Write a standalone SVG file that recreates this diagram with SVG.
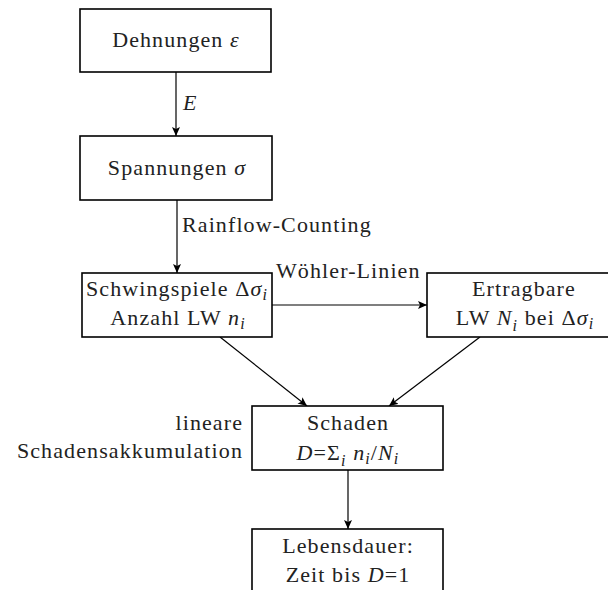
<svg xmlns="http://www.w3.org/2000/svg" width="608" height="590" viewBox="0 0 608 590">
<style>
.box{fill:#fff;stroke:#000;stroke-width:1.6}
.c{fill:none;stroke:#000;stroke-width:1.2}
text{font-family:"Liberation Serif","DejaVu Serif",serif;font-size:22px;letter-spacing:1.1px;fill:#222}
.m{text-anchor:middle}
.e{text-anchor:end}
.i{font-style:italic}
.s{font-style:italic;font-size:16px}
</style>
<defs>
<marker id="a" markerUnits="userSpaceOnUse" markerWidth="12" markerHeight="10" refX="9" refY="4" orient="auto">
<path d="M0,0 L9,4 L0,8 L2,4 z" fill="#000"/>
</marker>
</defs>
<g id="connectors">
<line class="c" x1="176" y1="72" x2="176" y2="136" marker-end="url(#a)"/>
<line class="c" x1="177" y1="200" x2="177" y2="273" marker-end="url(#a)"/>
<line class="c" x1="272" y1="305" x2="427" y2="305" marker-end="url(#a)"/>
<line class="c" x1="220" y1="337" x2="307" y2="406" marker-end="url(#a)"/>
<line class="c" x1="480" y1="337" x2="389" y2="406" marker-end="url(#a)"/>
<line class="c" x1="348" y1="470" x2="348" y2="529" marker-end="url(#a)"/>
<text x="183" y="110" class="i">E</text>
<text x="182" y="232">Rainflow-Counting</text>
<text x="276" y="278">Wöhler-Linien</text>
<text x="243" y="430" class="e">lineare</text>
<text x="243" y="458" class="e">Schadensakkumulation</text>
</g>
<g id="n1">
<rect class="box" x="80" y="9" width="191" height="63"/>
<text x="176" y="47" class="m">Dehnungen <tspan class="i">ε</tspan></text>
</g>
<g id="n2">
<rect class="box" x="80" y="136" width="192" height="64"/>
<text x="177" y="175" class="m">Spannungen <tspan class="i">σ</tspan></text>
</g>
<g id="n3">
<rect class="box" x="82" y="273" width="190" height="64"/>
<text x="177" y="296" class="m">Schwingspiele Δ<tspan class="i">σ</tspan><tspan class="s" dy="4">i</tspan></text>
<text x="178" y="325" class="m">Anzahl LW <tspan class="i">n</tspan><tspan class="s" dy="4">i</tspan></text>
</g>
<g id="n4">
<rect class="box" x="427" y="273" width="192" height="64"/>
<text x="524" y="296" class="m">Ertragbare</text>
<text x="525" y="325" class="m">LW <tspan class="i">N</tspan><tspan class="s" dy="6">i</tspan><tspan dy="-6"> bei Δ</tspan><tspan class="i">σ</tspan><tspan class="s" dy="4">i</tspan></text>
</g>
<g id="n5">
<rect class="box" x="252" y="406" width="191" height="64"/>
<text x="348" y="430" class="m">Schaden</text>
<text x="348" y="460" class="m"><tspan class="i">D</tspan>=Σ<tspan class="s" dy="6">i</tspan><tspan dy="-6"> </tspan><tspan class="i">n</tspan><tspan class="s" dy="4">i</tspan><tspan dy="-4">/</tspan><tspan class="i">N</tspan><tspan class="s" dy="4">i</tspan></text>
</g>
<g id="n6">
<rect class="box" x="252" y="529" width="191" height="70"/>
<text x="348" y="553" class="m">Lebensdauer:</text>
<text x="348" y="582" class="m">Zeit bis <tspan class="i">D</tspan>=1</text>
</g>
</svg>
